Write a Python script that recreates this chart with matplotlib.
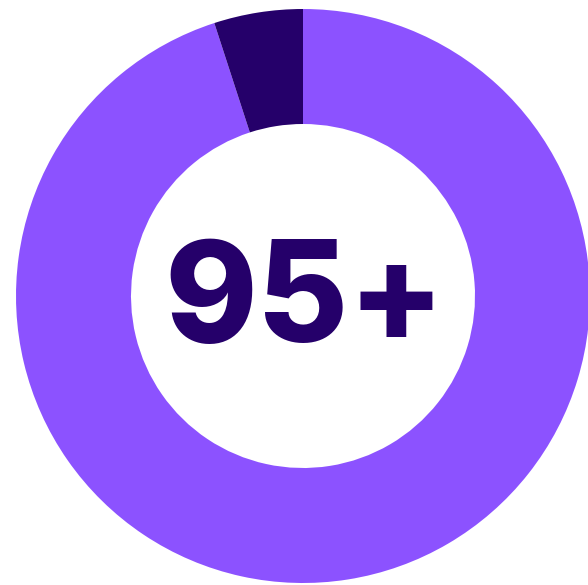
import matplotlib
matplotlib.use("Agg")
import matplotlib.pyplot as plt

# share of the ring: main part and the remaining sliver
labels = ["95+", "rest"]
values = [95, 5]
colors = ["#8C52FF", "#25006A"]
center_text = "95+"

fig = plt.figure(figsize=(5.88, 5.85), dpi=100)
ax = fig.add_axes([0, 0, 1, 1])
ax.set_xlim(0, 588)
ax.set_ylim(0, 585)
ax.set_aspect("equal")
ax.axis("off")

ax.pie(values, colors=colors, startangle=90, counterclock=False,
       radius=287, center=(303, 289),
       wedgeprops=dict(width=115, linewidth=0))
ax.set_xlim(0, 588)
ax.set_ylim(0, 585)

ax.text(305, 243, center_text, ha="center", va="baseline",
        fontsize=101, fontfamily="Inter", fontweight="heavy",
        color=colors[1])

fig.savefig("out.png", dpi=100)
